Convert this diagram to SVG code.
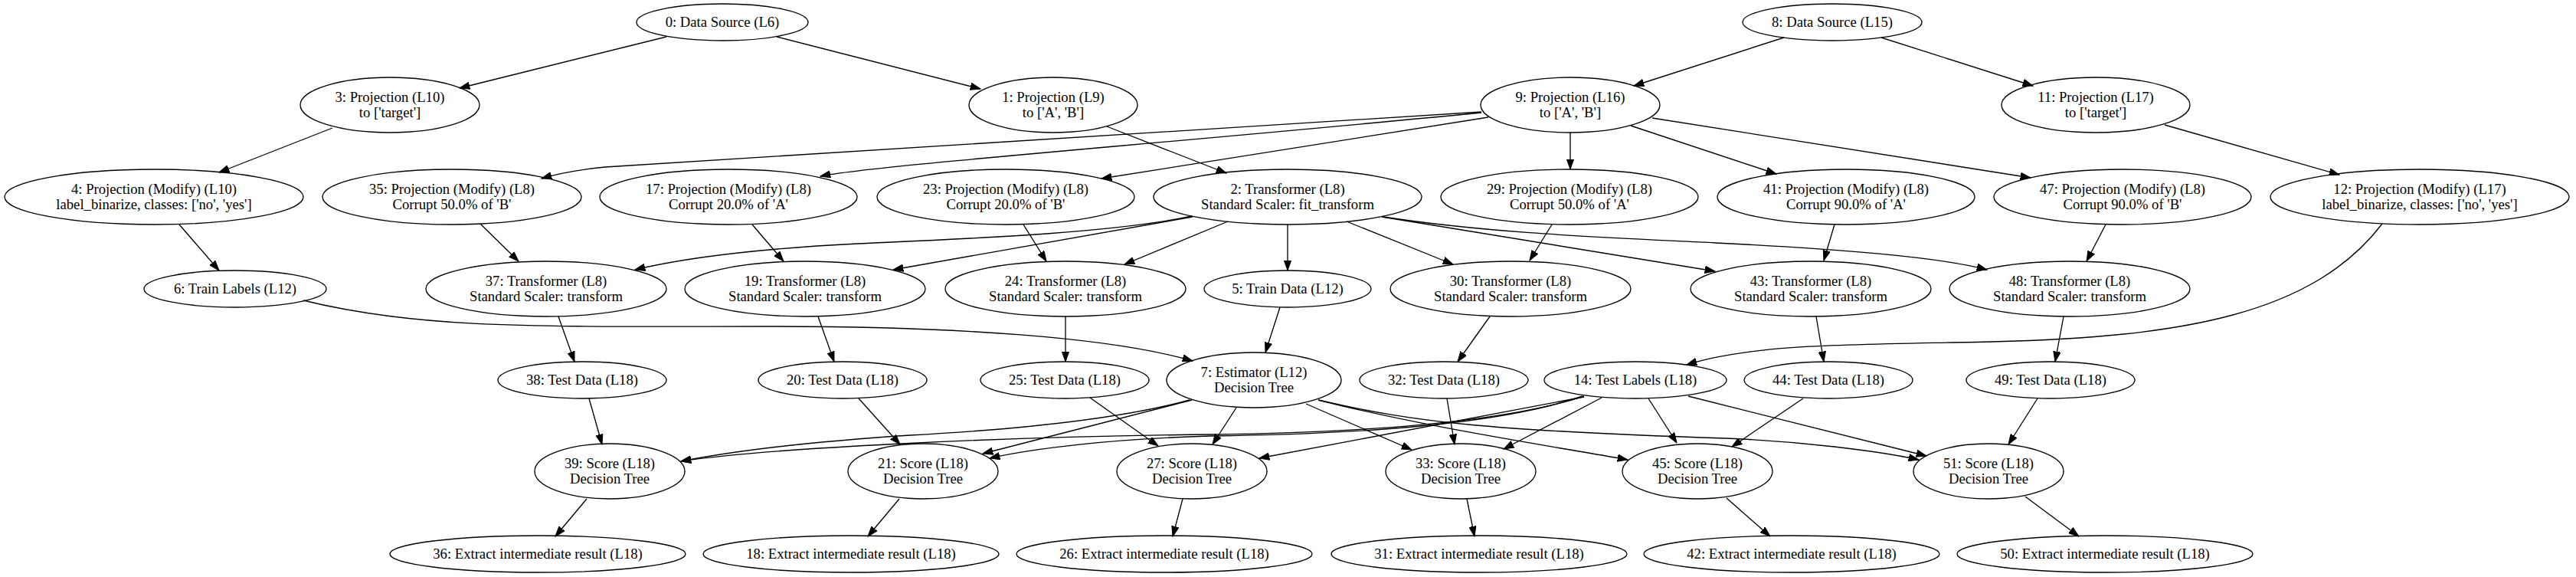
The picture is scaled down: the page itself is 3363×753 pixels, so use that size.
<svg xmlns="http://www.w3.org/2000/svg" width="3363" height="753" viewBox="0 0 3363 753">
<defs>
<style>
ellipse{fill:none;stroke:#000;stroke-width:1.33}
text{font-family:"Liberation Serif","Times New Roman",serif;font-size:18.67px;text-anchor:middle;fill:#000}
#edges path{fill:none;stroke:#000;stroke-width:1.33;marker-end:url(#a)}
</style>
<marker id="a" viewBox="0 0 14 10" refX="13.3" refY="5" markerWidth="14" markerHeight="10" orient="auto" markerUnits="userSpaceOnUse"><path d="M0,0.3 L13.3,5 L0,9.7 z" fill="#000" stroke="#000" stroke-width="1"/></marker>
</defs>
<rect width="3363" height="753" fill="#fff"/>
<g id="edges">
<path d="M870,48 L600,115"/>
<path d="M1014,48 L1280,116"/>
<path d="M2329,49 L2133,112"/>
<path d="M2456,49 L2654,112"/>
<path d="M434,167 L286,225"/>
<path d="M1445,165 L1601,226"/>
<path d="M2826,163 L3054,228"/>
<path d="M2050,173 L2050,221"/>
<path d="M2129,164 L2319,227"/>
<path d="M2157,154 L2651,232"/>
<path d="M1943,153 L1438,233"/>
<path d="M1934,147 C1500,189 1140,216 1071,230"/>
<path d="M1934,146 C1400,180 900,211 790,218 C760,221 730,226 707,233"/>
<path d="M234,293 L286,353"/>
<path d="M627,292 L677,341"/>
<path d="M982,293 L1023,341"/>
<path d="M1336,293 L1366,341"/>
<path d="M2026,293 L1997,340"/>
<path d="M2395,293 L2381,340"/>
<path d="M2749,293 L2724,341"/>
<path d="M1681,293 L1681,353"/>
<path d="M1603,289 L1468,345"/>
<path d="M1758,289 L1897,345"/>
<path d="M1557,283 L1166,352"/>
<path d="M1556,282 C1450,305 1250,312 1120,318 C1000,324 900,335 829,352"/>
<path d="M1804,283 L2239,354"/>
<path d="M1806,283 C1950,305 2100,310 2240,317 C2400,325 2530,335 2594,352"/>
<path d="M396,392 C550,430 700,426 1000,426 C1250,426 1450,440 1557,471"/>
<path d="M1671,401 L1652,460"/>
<path d="M3110,292 C3020,410 2850,440 2600,446 C2420,450 2290,448 2202,476"/>
<path d="M729,413 L750,472"/>
<path d="M1068,413 L1089,472"/>
<path d="M1391,413 L1391,472"/>
<path d="M1945,413 L1903,472"/>
<path d="M2371,413 L2381,472"/>
<path d="M2694,413 L2683,472"/>
<path d="M769,520 L786,580"/>
<path d="M1121,520 L1175,580"/>
<path d="M1423,519 L1512,582"/>
<path d="M1889,520 L1899,580"/>
<path d="M2354,520 L2261,583"/>
<path d="M2660,520 L2622,580"/>
<path d="M1614,532 L1583,580"/>
<path d="M1705,527 L1843,587"/>
<path d="M1556,522 L1283,592"/>
<path d="M1553,522 C1450,550 1300,562 1188,568 C1050,577 950,590 889,602"/>
<path d="M1721,522 C1850,555 2000,578 2125,600"/>
<path d="M1721,522 C1850,552 1950,562 2253,572 C2350,576 2450,588 2505,600"/>
<path d="M2068,517 C1950,555 1750,565 1580,567 C1300,570 1000,585 889,602"/>
<path d="M2066,517 C1950,557 1750,567 1580,569 C1450,573 1350,585 1292,598"/>
<path d="M2068,518 L1644,598"/>
<path d="M2091,519 L1963,586"/>
<path d="M2152,520 L2189,578"/>
<path d="M2204,517 L2515,595"/>
<path d="M766,651 L725,700"/>
<path d="M1174,651 L1133,700"/>
<path d="M1544,651 L1531,700"/>
<path d="M1915,651 L1925,700"/>
<path d="M2254,650 L2311,700"/>
<path d="M2644,648 L2714,700"/>
</g>
<g id="n0"><ellipse cx="943" cy="29" rx="112" ry="24"/><text x="943" y="35">0: Data Source (L6)</text></g>
<g id="n8"><ellipse cx="2392" cy="29" rx="117" ry="24"/><text x="2392" y="35">8: Data Source (L15)</text></g>
<g id="n3"><ellipse cx="509" cy="137" rx="117" ry="36"/><text x="509" y="133">3: Projection (L10)</text><text x="509" y="153">to ['target']</text></g>
<g id="n1"><ellipse cx="1375" cy="137" rx="110" ry="36"/><text x="1375" y="133">1: Projection (L9)</text><text x="1375" y="153">to ['A', 'B']</text></g>
<g id="n9"><ellipse cx="2050" cy="137" rx="117" ry="36"/><text x="2050" y="133">9: Projection (L16)</text><text x="2050" y="153">to ['A', 'B']</text></g>
<g id="n11"><ellipse cx="2736" cy="137" rx="123" ry="36"/><text x="2736" y="133">11: Projection (L17)</text><text x="2736" y="153">to ['target']</text></g>
<g id="n4"><ellipse cx="201" cy="257" rx="195" ry="36"/><text x="201" y="253">4: Projection (Modify) (L10)</text><text x="201" y="273">label_binarize, classes: ['no', 'yes']</text></g>
<g id="n35"><ellipse cx="590" cy="257" rx="169" ry="36"/><text x="590" y="253">35: Projection (Modify) (L8)</text><text x="590" y="273">Corrupt 50.0% of 'B'</text></g>
<g id="n17"><ellipse cx="951" cy="257" rx="168" ry="36"/><text x="951" y="253">17: Projection (Modify) (L8)</text><text x="951" y="273">Corrupt 20.0% of 'A'</text></g>
<g id="n23"><ellipse cx="1313" cy="257" rx="168" ry="36"/><text x="1313" y="253">23: Projection (Modify) (L8)</text><text x="1313" y="273">Corrupt 20.0% of 'B'</text></g>
<g id="n2"><ellipse cx="1681" cy="257" rx="175" ry="36"/><text x="1681" y="253">2: Transformer (L8)</text><text x="1681" y="273">Standard Scaler: fit_transform</text></g>
<g id="n29"><ellipse cx="2049" cy="257" rx="168" ry="36"/><text x="2049" y="253">29: Projection (Modify) (L8)</text><text x="2049" y="273">Corrupt 50.0% of 'A'</text></g>
<g id="n41"><ellipse cx="2410" cy="257" rx="168" ry="36"/><text x="2410" y="253">41: Projection (Modify) (L8)</text><text x="2410" y="273">Corrupt 90.0% of 'A'</text></g>
<g id="n47"><ellipse cx="2771" cy="257" rx="168" ry="36"/><text x="2771" y="253">47: Projection (Modify) (L8)</text><text x="2771" y="273">Corrupt 90.0% of 'B'</text></g>
<g id="n12"><ellipse cx="3159" cy="257" rx="195" ry="36"/><text x="3159" y="253">12: Projection (Modify) (L17)</text><text x="3159" y="273">label_binarize, classes: ['no', 'yes']</text></g>
<g id="n6"><ellipse cx="307" cy="377" rx="119" ry="24"/><text x="307" y="383">6: Train Labels (L12)</text></g>
<g id="n37"><ellipse cx="713" cy="377" rx="157" ry="36"/><text x="713" y="373">37: Transformer (L8)</text><text x="713" y="393">Standard Scaler: transform</text></g>
<g id="n19"><ellipse cx="1051" cy="377" rx="157" ry="36"/><text x="1051" y="373">19: Transformer (L8)</text><text x="1051" y="393">Standard Scaler: transform</text></g>
<g id="n24"><ellipse cx="1391" cy="377" rx="157" ry="36"/><text x="1391" y="373">24: Transformer (L8)</text><text x="1391" y="393">Standard Scaler: transform</text></g>
<g id="n5"><ellipse cx="1681" cy="377" rx="109" ry="24"/><text x="1681" y="383">5: Train Data (L12)</text></g>
<g id="n30"><ellipse cx="1972" cy="377" rx="157" ry="36"/><text x="1972" y="373">30: Transformer (L8)</text><text x="1972" y="393">Standard Scaler: transform</text></g>
<g id="n43"><ellipse cx="2364" cy="377" rx="157" ry="36"/><text x="2364" y="373">43: Transformer (L8)</text><text x="2364" y="393">Standard Scaler: transform</text></g>
<g id="n48"><ellipse cx="2702" cy="377" rx="157" ry="36"/><text x="2702" y="373">48: Transformer (L8)</text><text x="2702" y="393">Standard Scaler: transform</text></g>
<g id="n38"><ellipse cx="760" cy="496" rx="110" ry="24"/><text x="760" y="502">38: Test Data (L18)</text></g>
<g id="n20"><ellipse cx="1100" cy="496" rx="110" ry="24"/><text x="1100" y="502">20: Test Data (L18)</text></g>
<g id="n25"><ellipse cx="1390" cy="496" rx="110" ry="24"/><text x="1390" y="502">25: Test Data (L18)</text></g>
<g id="n7"><ellipse cx="1637" cy="496" rx="114" ry="36"/><text x="1637" y="492">7: Estimator (L12)</text><text x="1637" y="512">Decision Tree</text></g>
<g id="n32"><ellipse cx="1885" cy="496" rx="110" ry="24"/><text x="1885" y="502">32: Test Data (L18)</text></g>
<g id="n14"><ellipse cx="2135" cy="496" rx="119" ry="24"/><text x="2135" y="502">14: Test Labels (L18)</text></g>
<g id="n44"><ellipse cx="2387" cy="496" rx="110" ry="24"/><text x="2387" y="502">44: Test Data (L18)</text></g>
<g id="n49"><ellipse cx="2677" cy="496" rx="110" ry="24"/><text x="2677" y="502">49: Test Data (L18)</text></g>
<g id="n39"><ellipse cx="796" cy="615" rx="98" ry="36"/><text x="796" y="611">39: Score (L18)</text><text x="796" y="631">Decision Tree</text></g>
<g id="n21"><ellipse cx="1205" cy="615" rx="98" ry="36"/><text x="1205" y="611">21: Score (L18)</text><text x="1205" y="631">Decision Tree</text></g>
<g id="n27"><ellipse cx="1556" cy="615" rx="98" ry="36"/><text x="1556" y="611">27: Score (L18)</text><text x="1556" y="631">Decision Tree</text></g>
<g id="n33"><ellipse cx="1907" cy="615" rx="98" ry="36"/><text x="1907" y="611">33: Score (L18)</text><text x="1907" y="631">Decision Tree</text></g>
<g id="n45"><ellipse cx="2216" cy="615" rx="98" ry="36"/><text x="2216" y="611">45: Score (L18)</text><text x="2216" y="631">Decision Tree</text></g>
<g id="n51"><ellipse cx="2596" cy="615" rx="98" ry="36"/><text x="2596" y="611">51: Score (L18)</text><text x="2596" y="631">Decision Tree</text></g>
<g id="n36"><ellipse cx="702" cy="723" rx="193" ry="24"/><text x="702" y="729">36: Extract intermediate result (L18)</text></g>
<g id="n18"><ellipse cx="1111" cy="723" rx="193" ry="24"/><text x="1111" y="729">18: Extract intermediate result (L18)</text></g>
<g id="n26"><ellipse cx="1520" cy="723" rx="193" ry="24"/><text x="1520" y="729">26: Extract intermediate result (L18)</text></g>
<g id="n31"><ellipse cx="1931" cy="723" rx="193" ry="24"/><text x="1931" y="729">31: Extract intermediate result (L18)</text></g>
<g id="n42"><ellipse cx="2339" cy="723" rx="193" ry="24"/><text x="2339" y="729">42: Extract intermediate result (L18)</text></g>
<g id="n50"><ellipse cx="2748" cy="723" rx="193" ry="24"/><text x="2748" y="729">50: Extract intermediate result (L18)</text></g>
</svg>
